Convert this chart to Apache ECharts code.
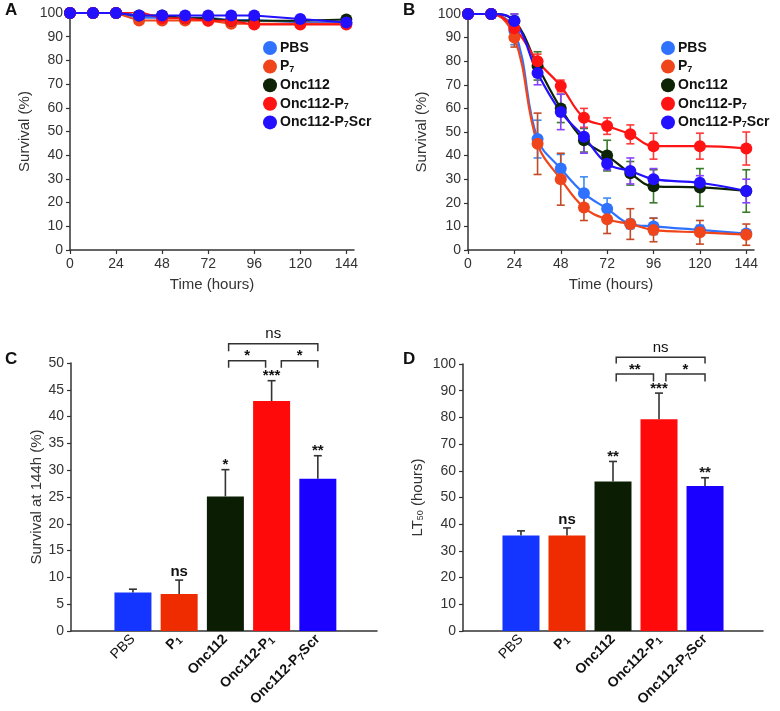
<!DOCTYPE html>
<html>
<head>
<meta charset="utf-8">
<script src="https://cdn.jsdelivr.net/npm/echarts@6/dist/echarts.min.js"></script>
<style>html,body{margin:0;padding:0;background:#fff}#main{width:780px;height:711px}</style>
</head>
<body>
<div id="main"></div>
<script>
// time points (hours)
var hours = [0, 12, 24, 36, 48, 60, 72, 84, 96, 120, 144];
var timeTicks = [0, 24, 48, 72, 96, 120, 144];
var groups = ['PBS', 'P7', 'Onc112', 'Onc112-P7', 'Onc112-P7Scr'];
var legendLabels = ['PBS', 'P{s|7}', 'Onc112', 'Onc112-P{s|7}', 'Onc112-P{s|7}Scr'];
var catLabels = ['{n|PBS}', '{b|P}{s|1}', '{b|Onc112}', '{b|Onc112-P}{s|1}', '{b|Onc112-P}{s|7}{b|Scr}'];
var lineColors = ['#2f72ff', '#f0441a', '#0d2406', '#ff1414', '#2210ff'];
var errColors = ['#3d8cf2', '#c44a26', '#3a7a2a', '#ff3a3a', '#8a40ff'];
var barColors = ['#1434ff', '#ee2c00', '#0b1e04', '#ff0a0a', '#1a00ff'];

// panel A - survival (%) per group
var aPBS = [100, 100, 100, 98, 98, 98, 98, 97, 97, 96, 96];
var aP7 = [100, 100, 100, 96.8, 96.8, 96.8, 96.8, 95.5, 95.5, 95.5, 95.5];
var aOnc = [100, 100, 100, 98.9, 98.9, 97.8, 97.8, 96.7, 96.7, 96.7, 97.3];
var aOncP7 = [100, 100, 100, 100.5, 97.8, 97.8, 96.7, 96.7, 95.1, 95.1, 95.1];
var aScr = [100, 100, 100, 98.9, 98.9, 98.9, 98.9, 98.9, 98.9, 97.5, 96];

// panel B - survival (%) and error per group
var bPBS = [100, 100, 93, 47, 34.5, 24, 17.5, 11, 10, 8.5, 7];
var bPBSErr = [0, 0, 6, 8, 6, 7, 4.5, 2, 3.5, 2, 1];
var bP7 = [100, 100, 90, 45, 30, 18, 13, 11, 8.5, 7.5, 6.5];
var bP7Err = [0, 0, 4, 13, 11, 5.5, 6, 6.5, 5, 5, 4.5];
var bOnc = [100, 100, 97, 78, 60, 46.5, 40, 32.5, 27, 26.5, 25];
var bOncErr = [0, 0, 3, 6, 6, 5, 6.5, 5, 7, 8, 9];
var bOncP7 = [100, 100, 94, 80, 69.5, 56, 52.5, 49, 44, 44, 43];
var bOncP7Err = [0, 0, 3, 3, 2.5, 4, 3.5, 4, 5.5, 5.5, 7];
var bScr = [100, 100, 97, 75, 58.5, 48, 36.5, 33.5, 30, 28.5, 25];
var bScrErr = [0, 0, 3, 5, 7.5, 7, 2.5, 5.5, 4.5, 3, 5];

// panel C - survival at 144 h
var surv144 = [7.2, 6.9, 25.1, 42.9, 28.4];
var surv144Err = [0.6, 2.6, 5.0, 3.8, 4.3];
var surv144Sig = ['', 'ns', '*', '***', '**'];
var bracketsC = [[2.07, 2.87, 50.4, 49.1, '*'], [3.21, 4.0, 50.4, 49.1, '*'], [2.07, 4.0, 53.6, 52.2, 'ns']];

// panel D - LT50
var lt50 = [35.8, 35.8, 56.0, 79.3, 54.3];
var lt50Err = [1.7, 2.8, 7.5, 9.8, 3.1];
var lt50Sig = ['', 'ns', '**', '***', '**'];
var bracketsD = [[2.07, 2.88, 96.3, 93.4, '**'], [3.15, 4.0, 96.3, 93.4, '*'], [2.07, 4.0, 102.5, 100.2, 'ns']];

var FONT = '"Liberation Sans", Arial, sans-serif';
var AX = '#333';
var subRich = {s: {fontSize: 9, fontWeight: 'bold', verticalAlign: 'bottom', lineHeight: 9, fontFamily: FONT, color: '#111'}};

function zip(xs, ys, es) {
    return xs.map(function (x, i) { return es ? [x, ys[i], es[i]] : [x, ys[i]]; });
}

function timeAxis(idx) {
    return {
        type: 'value', gridIndex: idx, min: 0, max: 148,
        name: 'Time (hours)', nameLocation: 'middle', nameGap: 27,
        nameTextStyle: {fontSize: 15, color: AX, fontFamily: FONT},
        axisLine: {show: true, lineStyle: {color: AX, width: 1.5}},
        axisTick: {show: true, length: 4, customValues: timeTicks, lineStyle: {color: AX, width: 1.2}},
        axisLabel: {customValues: timeTicks, fontSize: 14, color: AX, margin: 7, fontFamily: FONT},
        splitLine: {show: false}
    };
}

function valAxis(idx, max, step, name, gap) {
    return {
        type: 'value', gridIndex: idx, min: 0, max: max, interval: step,
        name: name, nameLocation: 'middle', nameGap: gap,
        nameTextStyle: {fontSize: 15, color: AX, fontFamily: FONT, rich: {s: {fontSize: 9, verticalAlign: 'bottom', lineHeight: 9, color: AX}}},
        axisLine: {show: true, onZero: false, lineStyle: {color: AX, width: 1.5}},
        axisTick: {show: true, length: 4, lineStyle: {color: AX, width: 1.2}},
        axisLabel: {fontSize: 14, color: AX, margin: 7, fontFamily: FONT},
        splitLine: {show: false}
    };
}

function catAxis(idx, lo, hi) {
    return {
        type: 'value', gridIndex: idx, min: lo, max: hi,
        axisLine: {show: true, onZero: false, lineStyle: {color: AX, width: 1.5}},
        axisTick: {show: false},
        splitLine: {show: false},
        axisLabel: {
            customValues: [0, 1, 2, 3, 4], rotate: 45, margin: 6,
            formatter: function (v) { return catLabels[Math.round(v)]; },
            rich: {
                n: {fontSize: 14, color: '#111', fontFamily: FONT, lineHeight: 16},
                b: {fontSize: 14, fontWeight: 'bold', color: '#111', fontFamily: FONT, lineHeight: 16},
                s: {fontSize: 10, fontWeight: 'bold', color: '#111', verticalAlign: 'bottom', lineHeight: 10, fontFamily: FONT}
            }
        }
    };
}

function renderErr(params, api) {
    var x = api.value(0), y = api.value(1), e = api.value(2);
    if (!e) return null;
    var top = api.coord([x, y + e]), bot = api.coord([x, y - e]);
    var w = 4;
    var st = {stroke: api.visual('color'), lineWidth: 1.6};
    return {type: 'group', children: [
        {type: 'line', shape: {x1: top[0], y1: top[1], x2: bot[0], y2: bot[1]}, style: st},
        {type: 'line', shape: {x1: top[0] - w, y1: top[1], x2: top[0] + w, y2: top[1]}, style: st},
        {type: 'line', shape: {x1: bot[0] - w, y1: bot[1], x2: bot[0] + w, y2: bot[1]}, style: st}
    ]};
}

function renderBarErr(params, api) {
    var x = api.value(0), y = api.value(1), e = api.value(2);
    var sig = catSig[params.seriesName][params.dataIndex];
    var base = api.coord([x, y]), top = api.coord([x, y + e]);
    var st = {stroke: '#333', lineWidth: 1.6};
    return {type: 'group', children: [
        {type: 'line', shape: {x1: base[0], y1: base[1], x2: top[0], y2: top[1]}, style: st},
        {type: 'line', shape: {x1: top[0] - 4, y1: top[1], x2: top[0] + 4, y2: top[1]}, style: st},
        {type: 'text', style: {text: sig, x: top[0], y: top[1] + (sig === 'ns' ? -1 : 3), align: 'center', verticalAlign: 'bottom',
            font: 'bold 15px ' + FONT, fill: '#111'}}
    ]};
}

function renderBracket(params, api) {
    var a = api.coord([api.value(0), api.value(2)]);
    var b = api.coord([api.value(1), api.value(2)]);
    var leg = api.coord([api.value(0), api.value(3)]);
    var lab = bracketLabels[params.seriesName][params.dataIndex];
    var st = {stroke: '#333', lineWidth: 1.5, fill: null};
    return {type: 'group', children: [
        {type: 'polyline', shape: {points: [[a[0], leg[1]], [a[0], a[1]], [b[0], b[1]], [b[0], leg[1]]]}, style: st},
        {type: 'text', style: {text: lab, x: (a[0] + b[0]) / 2, y: a[1] + (lab === 'ns' ? -2 : 3), align: 'center', verticalAlign: 'bottom',
            font: (lab === 'ns' ? '' : 'bold ') + '15px ' + FONT, fill: '#111'}}
    ]};
}

var catSig = {'errC': surv144Sig, 'errD': lt50Sig};
var bracketLabels = {
    'brC': bracketsC.map(function (r) { return r[4]; }),
    'brD': bracketsD.map(function (r) { return r[4]; })
};

var aData = [aPBS, aP7, aOnc, aOncP7, aScr];
var bData = [bPBS, bP7, bOnc, bOncP7, bScr];
var bErr = [bPBSErr, bP7Err, bOncErr, bOncP7Err, bScrErr];

var series = [];
groups.forEach(function (g, i) {
    series.push({
        name: g, type: 'line', xAxisIndex: 0, yAxisIndex: 0,
        data: zip(hours, aData[i]), symbol: 'circle', symbolSize: 12,
        itemStyle: {color: lineColors[i]}, lineStyle: {color: lineColors[i], width: 2}
    });
});
groups.forEach(function (g, i) {
    series.push({
        name: g + ' err', type: 'custom', xAxisIndex: 1, yAxisIndex: 1,
        data: zip(hours, bData[i], bErr[i]), renderItem: renderErr,
        itemStyle: {color: errColors[i]}, encode: {x: 0, y: 1}, z: 1
    });
});
groups.forEach(function (g, i) {
    series.push({
        name: g, type: 'line', xAxisIndex: 1, yAxisIndex: 1,
        data: zip(hours, bData[i]), symbol: 'circle', symbolSize: 12, smooth: 0.4,
        itemStyle: {color: lineColors[i]}, lineStyle: {color: lineColors[i], width: 2.2}, z: 2
    });
});

function barSeries(ax, vals, err, errName, brName, brackets) {
    series.push({
        type: 'bar', xAxisIndex: ax, yAxisIndex: ax, barWidth: 37,
        data: vals.map(function (v, i) { return {value: [i, v], itemStyle: {color: barColors[i]}}; })
    });
    series.push({
        name: errName, type: 'custom', xAxisIndex: ax, yAxisIndex: ax, renderItem: renderBarErr,
        data: vals.map(function (v, i) { return [i, v, err[i]]; }), encode: {x: 0, y: 1}, z: 3
    });
    series.push({
        name: brName, type: 'custom', xAxisIndex: ax, yAxisIndex: ax, renderItem: renderBracket, clip: false,
        data: brackets.map(function (r) { return [r[0], r[1], r[2], r[3]]; }), encode: {x: [0, 1], y: [2, 3]}, z: 3
    });
}
barSeries(2, surv144, surv144Err, 'errC', 'brC', bracketsC);
barSeries(3, lt50, lt50Err, 'errD', 'brD', bracketsD);

function legendAt(left) {
    return {
        data: groups, left: left, top: 36, orient: 'vertical', icon: 'circle',
        itemWidth: 14, itemHeight: 14, itemGap: 4.6, selectedMode: false,
        formatter: function (name) { return legendLabels[groups.indexOf(name)]; },
        textStyle: {fontSize: 14, fontWeight: 'bold', color: '#111', fontFamily: FONT, padding: [0, 0, 0, -2], rich: subRich}
    };
}

var option = {
    animation: false,
    textStyle: {fontFamily: FONT},
    grid: [
        {left: 70, top: 13, width: 284, height: 237},
        {left: 468, top: 14, width: 286, height: 236},
        {left: 71, top: 363, width: 306, height: 268},
        {left: 463, top: 364, width: 300, height: 267}
    ],
    xAxis: [timeAxis(0), timeAxis(1), catAxis(2, -1.34, 5.28), catAxis(3, -1.26, 5.26)],
    yAxis: [
        valAxis(0, 100, 10, 'Survival (%)', 38),
        valAxis(1, 100, 10, 'Survival (%)', 39),
        valAxis(2, 50, 5, 'Survival at 144h (%)', 27),
        valAxis(3, 100, 10, 'LT{s|50} (hours)', 38)
    ],
    legend: [legendAt(258), legendAt(656)],
    graphic: [
        {type: 'text', left: 5, top: 2, style: {text: 'A', font: 'bold 17px ' + FONT, fill: '#111'}},
        {type: 'text', left: 403, top: 2, style: {text: 'B', font: 'bold 17px ' + FONT, fill: '#111'}},
        {type: 'text', left: 5, top: 351, style: {text: 'C', font: 'bold 17px ' + FONT, fill: '#111'}},
        {type: 'text', left: 403, top: 351, style: {text: 'D', font: 'bold 17px ' + FONT, fill: '#111'}}
    ],
    series: series
};

var chart = echarts.init(document.getElementById('main'));
chart.setOption(option);
</script>
</body>
</html>
